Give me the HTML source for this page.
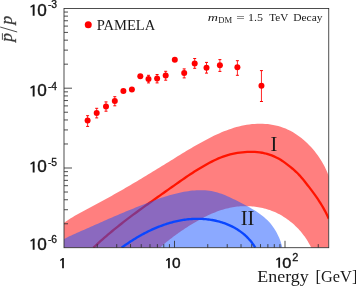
<!DOCTYPE html>
<html><head><meta charset="utf-8"><style>html,body{margin:0;padding:0;background:#fff;}svg{display:block;will-change:transform;}</style></head><body><svg width="356" height="287" viewBox="0 0 356 287">
<defs><clipPath id="c"><rect x="64.00" y="8.50" width="264.75" height="239.20"/></clipPath></defs>
<rect width="356" height="287" fill="#fff"/>
<g clip-path="url(#c)">
<path d="M63.80,223.00 L65.93,221.44 L68.10,219.95 L70.31,218.52 L72.55,217.13 L74.82,215.80 L77.11,214.50 L79.42,213.22 L81.74,211.97 L84.06,210.72 L86.39,209.48 L88.72,208.24 L91.05,206.99 L93.37,205.75 L95.70,204.50 L98.03,203.25 L100.35,202.00 L102.67,200.74 L104.99,199.48 L107.30,198.21 L109.61,196.94 L111.92,195.66 L114.22,194.37 L116.52,193.08 L118.82,191.77 L121.11,190.47 L123.40,189.15 L125.68,187.83 L127.96,186.51 L130.24,185.18 L132.51,183.84 L134.78,182.50 L137.05,181.15 L139.32,179.80 L141.58,178.45 L143.85,177.09 L146.11,175.72 L148.36,174.36 L150.62,172.99 L152.87,171.62 L155.12,170.24 L157.38,168.86 L159.62,167.48 L161.87,166.09 L164.12,164.71 L166.37,163.32 L168.61,161.93 L170.85,160.54 L173.10,159.15 L175.34,157.76 L177.59,156.37 L179.84,154.98 L182.09,153.60 L184.34,152.23 L186.60,150.86 L188.86,149.51 L191.13,148.16 L193.41,146.83 L195.69,145.50 L197.99,144.20 L200.29,142.91 L202.60,141.63 L204.92,140.38 L207.25,139.14 L209.59,137.93 L211.95,136.75 L214.32,135.60 L216.70,134.48 L219.11,133.39 L221.52,132.35 L223.95,131.35 L226.41,130.39 L228.87,129.49 L231.36,128.64 L233.87,127.84 L236.40,127.10 L238.95,126.43 L241.53,125.82 L244.12,125.28 L246.73,124.82 L249.36,124.43 L252.00,124.12 L254.64,123.89 L257.29,123.75 L259.94,123.70 L262.59,123.75 L265.23,123.88 L267.86,124.12 L270.48,124.45 L273.07,124.88 L275.65,125.41 L278.19,126.05 L280.70,126.80 L283.18,127.65 L285.62,128.61 L288.01,129.68 L290.36,130.85 L292.67,132.11 L294.92,133.47 L297.13,134.92 L299.28,136.45 L301.38,138.05 L303.43,139.73 L305.42,141.48 L307.35,143.29 L309.23,145.16 L311.05,147.09 L312.81,149.07 L314.51,151.11 L316.15,153.19 L317.73,155.32 L319.24,157.49 L320.68,159.71 L322.06,161.97 L323.36,164.26 L324.60,166.59 L325.76,168.95 L326.85,171.34 L327.86,173.76 L328.80,176.20 L328.75,247.70 L311.20,247.70 L310.54,246.36 L309.86,245.02 L309.15,243.70 L308.40,242.40 L307.63,241.11 L306.84,239.83 L306.01,238.57 L305.17,237.33 L304.29,236.10 L303.39,234.89 L302.47,233.69 L301.52,232.52 L300.54,231.36 L299.55,230.23 L298.53,229.11 L297.49,228.01 L296.43,226.93 L295.34,225.88 L294.24,224.85 L293.11,223.84 L291.96,222.85 L290.80,221.88 L289.62,220.94 L288.41,220.03 L287.19,219.14 L285.95,218.28 L284.70,217.44 L283.43,216.63 L282.14,215.84 L280.83,215.09 L279.52,214.36 L278.18,213.66 L276.83,212.99 L275.47,212.36 L274.10,211.75 L272.71,211.17 L271.31,210.63 L269.90,210.12 L268.47,209.64 L267.04,209.19 L265.60,208.77 L264.15,208.38 L262.69,208.03 L261.22,207.70 L259.74,207.41 L258.26,207.15 L256.78,206.92 L255.28,206.72 L253.79,206.54 L252.29,206.40 L250.79,206.29 L249.28,206.21 L247.78,206.16 L246.27,206.14 L244.76,206.15 L243.26,206.18 L241.75,206.25 L240.25,206.35 L238.75,206.47 L237.25,206.62 L235.76,206.80 L234.27,207.01 L232.78,207.25 L231.31,207.52 L229.84,207.81 L228.37,208.13 L226.92,208.48 L225.47,208.85 L224.02,209.25 L222.59,209.68 L221.16,210.12 L219.74,210.60 L218.32,211.09 L216.91,211.60 L215.51,212.14 L214.11,212.70 L212.72,213.27 L211.34,213.87 L209.96,214.48 L208.59,215.11 L207.23,215.75 L205.87,216.41 L204.52,217.09 L203.18,217.78 L201.84,218.49 L200.50,219.20 L199.18,219.93 L197.86,220.67 L196.54,221.42 L195.23,222.18 L193.93,222.95 L192.63,223.73 L191.34,224.52 L190.05,225.31 L188.77,226.11 L187.49,226.92 L186.22,227.74 L184.96,228.56 L183.70,229.39 L182.45,230.23 L181.21,231.08 L179.97,231.93 L178.73,232.79 L177.51,233.66 L176.29,234.54 L175.07,235.43 L173.87,236.32 L172.66,237.22 L171.47,238.13 L170.28,239.05 L169.10,239.98 L167.93,240.91 L166.76,241.86 L165.60,242.81 L164.44,243.77 L163.30,244.74 L162.16,245.72 L161.03,246.70 L159.90,247.70 L64.00,247.70 Z" fill="#ff0000" fill-opacity="0.5"/>
<path d="M93.40,247.70 L95.21,245.99 L97.03,244.30 L98.86,242.62 L100.71,240.95 L102.56,239.30 L104.43,237.67 L106.31,236.04 L108.20,234.43 L110.10,232.84 L112.01,231.25 L113.93,229.67 L115.86,228.11 L117.79,226.56 L119.74,225.01 L121.69,223.48 L123.65,221.95 L125.62,220.44 L127.59,218.93 L129.58,217.43 L131.56,215.94 L133.55,214.45 L135.55,212.98 L137.55,211.50 L139.56,210.04 L141.57,208.58 L143.59,207.12 L145.60,205.67 L147.63,204.22 L149.65,202.78 L151.68,201.33 L153.70,199.90 L155.73,198.46 L157.76,197.03 L159.79,195.59 L161.82,194.16 L163.86,192.73 L165.89,191.30 L167.92,189.87 L169.95,188.43 L171.97,187.00 L174.00,185.57 L176.03,184.14 L178.06,182.71 L180.09,181.28 L182.13,179.87 L184.17,178.46 L186.22,177.06 L188.27,175.67 L190.34,174.30 L192.41,172.94 L194.50,171.59 L196.60,170.27 L198.71,168.96 L200.84,167.67 L202.98,166.40 L205.14,165.16 L207.32,163.94 L209.51,162.76 L211.73,161.61 L213.96,160.50 L216.21,159.44 L218.48,158.43 L220.78,157.49 L223.09,156.60 L225.42,155.79 L227.78,155.05 L230.16,154.39 L232.56,153.81 L234.98,153.32 L237.42,152.90 L239.87,152.56 L242.34,152.29 L244.81,152.09 L247.29,151.96 L249.78,151.89 L252.28,151.87 L254.77,151.93 L257.25,152.09 L259.72,152.36 L262.17,152.74 L264.60,153.25 L267.01,153.87 L269.38,154.60 L271.72,155.44 L274.02,156.39 L276.28,157.43 L278.48,158.58 L280.63,159.82 L282.73,161.16 L284.76,162.58 L286.74,164.08 L288.69,165.61 L290.64,167.17 L292.57,168.75 L294.46,170.37 L296.29,172.05 L298.05,173.79 L299.74,175.60 L301.38,177.45 L302.97,179.35 L304.53,181.27 L306.08,183.21 L307.62,185.17 L309.15,187.13 L310.66,189.11 L312.15,191.10 L313.63,193.11 L315.08,195.13 L316.50,197.17 L317.90,199.22 L319.27,201.30 L320.60,203.40 L321.90,205.51 L323.16,207.65 L324.38,209.81 L325.56,212.00 L326.69,214.20 L327.77,216.44 L328.80,218.70" fill="none" stroke="#ff1400" stroke-width="2.3"/>
<path d="M63.80,239.30 L65.65,238.27 L67.52,237.28 L69.41,236.33 L71.32,235.41 L73.24,234.52 L75.17,233.65 L77.11,232.79 L79.06,231.95 L81.01,231.11 L82.96,230.27 L84.91,229.43 L86.85,228.58 L88.79,227.72 L90.73,226.86 L92.66,225.99 L94.59,225.12 L96.52,224.25 L98.46,223.38 L100.39,222.52 L102.33,221.65 L104.27,220.79 L106.21,219.94 L108.15,219.09 L110.10,218.24 L112.05,217.40 L114.00,216.56 L115.95,215.72 L117.90,214.89 L119.86,214.07 L121.82,213.25 L123.78,212.43 L125.74,211.62 L127.71,210.81 L129.67,210.01 L131.64,209.21 L133.61,208.41 L135.58,207.62 L137.55,206.83 L139.52,206.05 L141.49,205.27 L143.46,204.49 L145.43,203.72 L147.41,202.95 L149.38,202.19 L151.36,201.44 L153.35,200.70 L155.33,199.97 L157.32,199.26 L159.32,198.55 L161.32,197.87 L163.33,197.20 L165.34,196.55 L167.36,195.92 L169.39,195.32 L171.43,194.74 L173.48,194.18 L175.55,193.65 L177.62,193.15 L179.70,192.68 L181.79,192.24 L183.90,191.84 L186.02,191.47 L188.14,191.14 L190.26,190.86 L192.39,190.62 L194.52,190.44 L196.65,190.30 L198.78,190.23 L200.90,190.21 L203.01,190.25 L205.12,190.36 L207.21,190.54 L209.30,190.78 L211.36,191.11 L213.41,191.51 L215.45,191.99 L217.46,192.54 L219.46,193.16 L221.45,193.84 L223.42,194.58 L225.38,195.37 L227.33,196.21 L229.27,197.08 L231.20,197.98 L233.13,198.91 L235.06,199.86 L236.98,200.83 L238.90,201.80 L240.82,202.78 L242.73,203.76 L244.64,204.75 L246.53,205.75 L248.42,206.77 L250.28,207.82 L252.13,208.88 L253.95,209.97 L255.75,211.09 L257.51,212.24 L259.24,213.43 L260.93,214.67 L262.59,215.94 L264.20,217.26 L265.76,218.64 L267.28,220.06 L268.74,221.55 L270.14,223.10 L271.48,224.71 L272.76,226.39 L273.98,228.13 L275.12,229.93 L276.21,231.79 L277.22,233.69 L278.17,235.63 L279.05,237.60 L279.86,239.60 L280.60,241.61 L281.27,243.64 L281.87,245.67 L282.40,247.70 L64.00,247.70 Z" fill="#1854ff" fill-opacity="0.5"/>
<path d="M121.60,247.70 L122.60,246.97 L123.60,246.25 L124.61,245.53 L125.62,244.82 L126.65,244.11 L127.68,243.41 L128.72,242.71 L129.76,242.02 L130.81,241.33 L131.87,240.65 L132.93,239.98 L134.00,239.31 L135.07,238.65 L136.16,237.99 L137.24,237.35 L138.34,236.71 L139.44,236.07 L140.54,235.45 L141.65,234.83 L142.77,234.22 L143.89,233.62 L145.02,233.03 L146.15,232.45 L147.29,231.88 L148.43,231.31 L149.58,230.76 L150.73,230.21 L151.88,229.68 L153.04,229.15 L154.21,228.64 L155.38,228.14 L156.55,227.64 L157.73,227.16 L158.91,226.69 L160.10,226.23 L161.29,225.78 L162.48,225.34 L163.68,224.92 L164.88,224.51 L166.09,224.11 L167.29,223.72 L168.51,223.35 L169.72,222.99 L170.94,222.64 L172.16,222.30 L173.38,221.98 L174.61,221.68 L175.84,221.39 L177.07,221.11 L178.30,220.85 L179.54,220.60 L180.78,220.36 L182.02,220.15 L183.26,219.94 L184.50,219.76 L185.75,219.59 L187.00,219.43 L188.25,219.29 L189.50,219.17 L190.75,219.06 L192.01,218.98 L193.26,218.91 L194.52,218.85 L195.78,218.82 L197.04,218.80 L198.30,218.80 L199.56,218.81 L200.82,218.85 L202.08,218.91 L203.34,218.98 L204.60,219.07 L205.86,219.18 L207.12,219.32 L208.38,219.47 L209.64,219.63 L210.89,219.82 L212.14,220.03 L213.38,220.26 L214.62,220.51 L215.86,220.77 L217.09,221.06 L218.31,221.37 L219.53,221.69 L220.75,222.04 L221.95,222.41 L223.15,222.80 L224.34,223.21 L225.52,223.63 L226.69,224.08 L227.85,224.55 L229.01,225.05 L230.15,225.56 L231.28,226.09 L232.40,226.65 L233.51,227.22 L234.60,227.82 L235.69,228.44 L236.76,229.08 L237.81,229.74 L238.85,230.43 L239.88,231.13 L240.89,231.86 L241.89,232.61 L242.87,233.38 L243.83,234.18 L244.78,234.99 L245.71,235.83 L246.62,236.69 L247.51,237.58 L248.38,238.49 L249.23,239.42 L250.07,240.37 L250.88,241.35 L251.67,242.35 L252.44,243.37 L253.19,244.42 L253.92,245.49 L254.62,246.58 L255.30,247.70" fill="none" stroke="#0a46ff" stroke-width="2.35"/>
</g>
<rect x="64.00" y="8.50" width="264.75" height="239.20" fill="none" stroke="#2e2e2e" stroke-width="0.85"/>
<path d="M97.26,247.70 v-3.60 M116.72,247.70 v-3.60 M130.53,247.70 v-3.60 M141.24,247.70 v-3.60 M149.99,247.70 v-3.60 M157.38,247.70 v-3.60 M163.79,247.70 v-3.60 M169.44,247.70 v-3.60 M174.50,247.70 v-6.90 M207.76,247.70 v-3.60 M227.22,247.70 v-3.60 M241.03,247.70 v-3.60 M251.74,247.70 v-3.60 M260.49,247.70 v-3.60 M267.88,247.70 v-3.60 M274.29,247.70 v-3.60 M279.94,247.70 v-3.60 M285.00,247.70 v-6.90 M318.26,247.70 v-3.60 M64.00,223.78 h4.00 M64.00,209.73 h4.00 M64.00,199.76 h4.00 M64.00,192.02 h4.00 M64.00,185.70 h4.00 M64.00,180.36 h4.00 M64.00,175.73 h4.00 M64.00,171.65 h4.00 M64.00,168.00 h8.00 M64.00,143.98 h4.00 M64.00,129.93 h4.00 M64.00,119.96 h4.00 M64.00,112.22 h4.00 M64.00,105.90 h4.00 M64.00,100.56 h4.00 M64.00,95.93 h4.00 M64.00,91.85 h4.00 M64.00,88.20 h8.00 M64.00,64.18 h4.00 M64.00,50.13 h4.00 M64.00,40.16 h4.00 M64.00,32.42 h4.00 M64.00,26.10 h4.00 M64.00,20.76 h4.00 M64.00,16.13 h4.00 M64.00,12.05 h4.00" stroke="#2e2e2e" stroke-width="0.85" fill="none"/>
<path d="M87.60,115.70 V126.40" stroke="#ff0000" stroke-width="0.85" fill="none"/>
<path d="M86.10,115.70 h3 M86.10,126.40 h3" stroke="#ff0000" stroke-width="1" fill="none"/>
<circle cx="87.60" cy="120.60" r="3.0" fill="#ff0000"/>
<path d="M96.70,108.30 V117.90" stroke="#ff0000" stroke-width="0.85" fill="none"/>
<path d="M95.20,108.30 h3 M95.20,117.90 h3" stroke="#ff0000" stroke-width="1" fill="none"/>
<circle cx="96.70" cy="112.90" r="3.0" fill="#ff0000"/>
<path d="M106.00,101.90 V111.20" stroke="#ff0000" stroke-width="0.85" fill="none"/>
<path d="M104.50,101.90 h3 M104.50,111.20 h3" stroke="#ff0000" stroke-width="1" fill="none"/>
<circle cx="106.00" cy="106.50" r="3.0" fill="#ff0000"/>
<path d="M114.80,96.70 V105.80" stroke="#ff0000" stroke-width="0.85" fill="none"/>
<path d="M113.30,96.70 h3 M113.30,105.80 h3" stroke="#ff0000" stroke-width="1" fill="none"/>
<circle cx="114.80" cy="101.10" r="3.0" fill="#ff0000"/>
<circle cx="123.40" cy="91.00" r="3.0" fill="#ff0000"/>
<circle cx="131.90" cy="89.60" r="3.0" fill="#ff0000"/>
<circle cx="140.30" cy="76.30" r="3.0" fill="#ff0000"/>
<path d="M148.50,75.30 V82.90" stroke="#ff0000" stroke-width="0.85" fill="none"/>
<path d="M147.00,75.30 h3 M147.00,82.90 h3" stroke="#ff0000" stroke-width="1" fill="none"/>
<circle cx="148.50" cy="78.90" r="3.0" fill="#ff0000"/>
<path d="M157.10,74.50 V82.90" stroke="#ff0000" stroke-width="0.85" fill="none"/>
<path d="M155.60,74.50 h3 M155.60,82.90 h3" stroke="#ff0000" stroke-width="1" fill="none"/>
<circle cx="157.10" cy="78.50" r="3.0" fill="#ff0000"/>
<path d="M165.70,71.30 V80.20" stroke="#ff0000" stroke-width="0.85" fill="none"/>
<path d="M164.20,71.30 h3 M164.20,80.20 h3" stroke="#ff0000" stroke-width="1" fill="none"/>
<circle cx="165.70" cy="75.50" r="3.0" fill="#ff0000"/>
<circle cx="174.80" cy="59.70" r="3.0" fill="#ff0000"/>
<path d="M184.20,68.90 V77.90" stroke="#ff0000" stroke-width="0.85" fill="none"/>
<path d="M182.70,68.90 h3 M182.70,77.90 h3" stroke="#ff0000" stroke-width="1" fill="none"/>
<circle cx="184.20" cy="73.10" r="3.0" fill="#ff0000"/>
<path d="M194.70,58.50 V68.30" stroke="#ff0000" stroke-width="0.85" fill="none"/>
<path d="M193.20,58.50 h3 M193.20,68.30 h3" stroke="#ff0000" stroke-width="1" fill="none"/>
<circle cx="194.70" cy="63.50" r="3.0" fill="#ff0000"/>
<path d="M206.50,62.40 V73.10" stroke="#ff0000" stroke-width="0.85" fill="none"/>
<path d="M205.00,62.40 h3 M205.00,73.10 h3" stroke="#ff0000" stroke-width="1" fill="none"/>
<circle cx="206.50" cy="67.80" r="3.0" fill="#ff0000"/>
<path d="M219.90,59.60 V71.40" stroke="#ff0000" stroke-width="0.85" fill="none"/>
<path d="M218.40,59.60 h3 M218.40,71.40 h3" stroke="#ff0000" stroke-width="1" fill="none"/>
<circle cx="219.90" cy="65.20" r="3.0" fill="#ff0000"/>
<path d="M237.40,60.70 V75.30" stroke="#ff0000" stroke-width="0.85" fill="none"/>
<path d="M235.90,60.70 h3 M235.90,75.30 h3" stroke="#ff0000" stroke-width="1" fill="none"/>
<circle cx="237.40" cy="67.20" r="3.0" fill="#ff0000"/>
<path d="M261.45,70.60 V101.50" stroke="#ff0000" stroke-width="0.85" fill="none"/>
<path d="M259.95,70.60 h3 M259.95,101.50 h3" stroke="#ff0000" stroke-width="1" fill="none"/>
<circle cx="261.45" cy="85.70" r="3.0" fill="#ff0000"/>
<circle cx="88.25" cy="24.75" r="3.5" fill="#ff0000"/>
<path d="M34.60,4.60 L34.60,15.70 L32.70,15.70 L32.70,6.60 L30.81,7.87 L30.31,6.54 L33.16,4.60 Z" fill="#151515"/><text transform="translate(37.23,15.54) scale(1.084,1)" font-family="Liberation Sans, sans-serif" font-size="15.82" fill="#151515" stroke="#151515" stroke-width="0.4">0</text><text x="47.90" y="7.60" font-family="Liberation Sans, sans-serif" font-size="10.30" fill="#151515" stroke="#151515" stroke-width="0.3">-3</text>
<path d="M34.60,85.40 L34.60,96.50 L32.70,96.50 L32.70,87.40 L30.81,88.67 L30.31,87.34 L33.16,85.40 Z" fill="#151515"/><text transform="translate(37.23,96.34) scale(1.084,1)" font-family="Liberation Sans, sans-serif" font-size="15.82" fill="#151515" stroke="#151515" stroke-width="0.4">0</text><text x="47.90" y="90.00" font-family="Liberation Sans, sans-serif" font-size="10.30" fill="#151515" stroke="#151515" stroke-width="0.3">-4</text>
<path d="M34.60,161.50 L34.60,172.60 L32.70,172.60 L32.70,163.50 L30.81,164.77 L30.31,163.44 L33.16,161.50 Z" fill="#151515"/><text transform="translate(37.23,172.44) scale(1.084,1)" font-family="Liberation Sans, sans-serif" font-size="15.82" fill="#151515" stroke="#151515" stroke-width="0.4">0</text><text x="47.90" y="166.00" font-family="Liberation Sans, sans-serif" font-size="10.30" fill="#151515" stroke="#151515" stroke-width="0.3">-5</text>
<path d="M34.60,238.60 L34.60,249.70 L32.70,249.70 L32.70,240.60 L30.81,241.87 L30.31,240.54 L33.16,238.60 Z" fill="#151515"/><text transform="translate(37.23,249.54) scale(1.084,1)" font-family="Liberation Sans, sans-serif" font-size="15.82" fill="#151515" stroke="#151515" stroke-width="0.4">0</text><text x="47.90" y="242.80" font-family="Liberation Sans, sans-serif" font-size="10.30" fill="#151515" stroke="#151515" stroke-width="0.3">-6</text>
<path d="M63.88,258.10 L63.88,268.30 L62.12,268.30 L62.12,259.94 L60.39,261.11 L59.93,259.89 L62.55,258.10 Z" fill="#151515"/>
<path d="M169.82,258.10 L169.82,268.30 L168.07,268.30 L168.07,259.94 L166.34,261.11 L165.88,259.89 L168.50,258.10 Z" fill="#151515"/><text transform="translate(172.10,268.20) scale(1.044,1)" font-family="Liberation Sans, sans-serif" font-size="14.83" fill="#151515" stroke="#151515" stroke-width="0.4">0</text>
<path d="M280.07,257.50 L280.07,267.80 L278.32,267.80 L278.32,259.35 L276.57,260.54 L276.11,259.30 L278.74,257.50 Z" fill="#151515"/><text transform="translate(282.16,267.70) scale(1.090,1)" font-family="Liberation Sans, sans-serif" font-size="14.97" fill="#151515" stroke="#151515" stroke-width="0.4">0</text>
<text x="292.30" y="260.70" font-family="Liberation Sans, sans-serif" font-size="10.90" fill="#151515" stroke="#151515" stroke-width="0.3">2</text>
<text x="257.3" y="282.3" font-family="Liberation Serif, serif" font-size="16.8" fill="#1a1a1a" textLength="51.4" lengthAdjust="spacingAndGlyphs">Energy</text>
<text x="315.6" y="282.3" font-family="Liberation Serif, serif" font-size="16.8" fill="#1a1a1a" textLength="41.8" lengthAdjust="spacingAndGlyphs">[GeV]</text>
<text x="96.7" y="29.5" font-family="Liberation Serif, serif" font-size="14.3" fill="#1a1a1a" textLength="58.6" lengthAdjust="spacingAndGlyphs">PAMELA</text>
<g font-family="Liberation Serif, serif" fill="#1a1a1a" font-size="11.4">
<text x="207.7" y="20.8" font-style="italic" textLength="10.2" lengthAdjust="spacingAndGlyphs">m</text>
<text x="218.3" y="22.7" font-size="8.3" textLength="13.9" lengthAdjust="spacingAndGlyphs">DM</text>
<text x="236.2" y="20.8" textLength="8.5" lengthAdjust="spacingAndGlyphs">=</text>
<text x="248.0" y="20.8" textLength="15.0" lengthAdjust="spacingAndGlyphs">1.5</text>
<text x="269.2" y="20.8" textLength="19.0" lengthAdjust="spacingAndGlyphs">TeV</text>
<text x="293.2" y="20.8" textLength="29.4" lengthAdjust="spacingAndGlyphs">Decay</text>
</g>
<text x="270.6" y="150.9" font-family="Liberation Serif, serif" font-size="20.5" fill="#1a1a1a">I</text>
<text x="240.7" y="225.3" font-family="Liberation Serif, serif" font-size="20.5" fill="#1a1a1a">II</text>
<g transform="translate(12.4,43.2) rotate(-90)" fill="#3a3a3a"><text x="1.4" y="0" font-family="Liberation Serif, serif" font-size="17.5" font-style="italic" stroke="#3a3a3a" stroke-width="0.3">p</text><text x="18.6" y="0" font-family="Liberation Serif, serif" font-size="17.5" font-style="italic" stroke="#3a3a3a" stroke-width="0.3">p</text><path d="M11.2,4.8 L16.2,-12.2" stroke="#3a3a3a" stroke-width="0.9"/><path d="M3.4,-10.0 h6.6" stroke="#3a3a3a" stroke-width="0.9"/></g>
</svg></body></html>
